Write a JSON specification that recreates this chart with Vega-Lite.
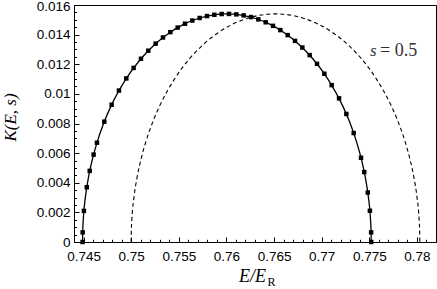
{
  "$schema": "https://vega.github.io/schema/vega-lite/v6.json",
  "width": 362,
  "height": 237,
  "autosize": {"type": "none"},
  "padding": {"left": 74, "top": 5, "right": 1, "bottom": 47},
  "background": "white",
  "config": {
    "view": {"stroke": "black", "strokeWidth": 1},
    "axis": {
      "grid": false,
      "domainColor": "black",
      "domainWidth": 1,
      "tickColor": "black",
      "tickWidth": 1,
      "labelColor": "black",
      "labelFont": "Liberation Sans",
      "labelFontSize": 13.5,
      "labelFlush": false,
      "labelOverlap": false,
      "labelBound": false,
      "titleColor": "black"
    }
  },
  "datasets": {
    "solid": [
      {"x": 0.7449, "y": 0}, {"x": 0.744915, "y": 0.000689}, {"x": 0.744976, "y": 0.001538}, {"x": 0.745203, "y": 0.003065},
      {"x": 0.745506, "y": 0.004312}, {"x": 0.745961, "y": 0.00566}, {"x": 0.746415, "y": 0.006713}, {"x": 0.747173, "y": 0.008112},
      {"x": 0.74793, "y": 0.00924}, {"x": 0.749445, "y": 0.010998}, {"x": 0.75096, "y": 0.01232}, {"x": 0.752475, "y": 0.013337},
      {"x": 0.75399, "y": 0.014114}, {"x": 0.755505, "y": 0.014691}, {"x": 0.75702, "y": 0.015089}, {"x": 0.758535, "y": 0.015323},
      {"x": 0.76005, "y": 0.0154}, {"x": 0.761565, "y": 0.015323}, {"x": 0.76308, "y": 0.015089}, {"x": 0.764595, "y": 0.014691},
      {"x": 0.76611, "y": 0.014114}, {"x": 0.767625, "y": 0.013337}, {"x": 0.76914, "y": 0.01232}, {"x": 0.770655, "y": 0.010998},
      {"x": 0.77217, "y": 0.00924}, {"x": 0.772928, "y": 0.008112}, {"x": 0.773685, "y": 0.006713}, {"x": 0.77414, "y": 0.00566},
      {"x": 0.774594, "y": 0.004312}, {"x": 0.774897, "y": 0.003065}, {"x": 0.775124, "y": 0.001538}, {"x": 0.775185, "y": 0.000689},
      {"x": 0.7752, "y": 0}
    ],
    "dashed": [
      {"x": 0.75, "y": 0}, {"x": 0.750015, "y": 0.000689}, {"x": 0.750076, "y": 0.001538}, {"x": 0.750303, "y": 0.003065},
      {"x": 0.750606, "y": 0.004312}, {"x": 0.751061, "y": 0.00566}, {"x": 0.751515, "y": 0.006713}, {"x": 0.752273, "y": 0.008112},
      {"x": 0.75303, "y": 0.00924}, {"x": 0.754545, "y": 0.010998}, {"x": 0.75606, "y": 0.01232}, {"x": 0.757575, "y": 0.013337},
      {"x": 0.75909, "y": 0.014114}, {"x": 0.760605, "y": 0.014691}, {"x": 0.76212, "y": 0.015089}, {"x": 0.763635, "y": 0.015323},
      {"x": 0.76515, "y": 0.0154}, {"x": 0.766665, "y": 0.015323}, {"x": 0.76818, "y": 0.015089}, {"x": 0.769695, "y": 0.014691},
      {"x": 0.77121, "y": 0.014114}, {"x": 0.772725, "y": 0.013337}, {"x": 0.77424, "y": 0.01232}, {"x": 0.775755, "y": 0.010998},
      {"x": 0.77727, "y": 0.00924}, {"x": 0.778028, "y": 0.008112}, {"x": 0.778785, "y": 0.006713}, {"x": 0.77924, "y": 0.00566},
      {"x": 0.779694, "y": 0.004312}, {"x": 0.779997, "y": 0.003065}, {"x": 0.780224, "y": 0.001538}, {"x": 0.780285, "y": 0.000689},
      {"x": 0.7803, "y": 0}
    ],
    "markers": [
      {"x": 0.7449, "y": 0}, {"x": 0.74491, "y": 0.00065}, {"x": 0.74504, "y": 0.0021}, {"x": 0.74534, "y": 0.0037},
      {"x": 0.74565, "y": 0.0048}, {"x": 0.74606, "y": 0.0059},
      {"x": 0.74641, "y": 0.006702}, {"x": 0.74718, "y": 0.008125}, {"x": 0.74795, "y": 0.009267}, {"x": 0.74872, "y": 0.010224},
      {"x": 0.74949, "y": 0.011043}, {"x": 0.75026, "y": 0.011753}, {"x": 0.75103, "y": 0.012373}, {"x": 0.7518, "y": 0.012916},
      {"x": 0.75257, "y": 0.013393}, {"x": 0.75334, "y": 0.013807}, {"x": 0.75411, "y": 0.014167}, {"x": 0.75488, "y": 0.014476},
      {"x": 0.75565, "y": 0.014737}, {"x": 0.75642, "y": 0.014951}, {"x": 0.75719, "y": 0.015123}, {"x": 0.75796, "y": 0.015252},
      {"x": 0.75873, "y": 0.015341}, {"x": 0.7595, "y": 0.01539}, {"x": 0.76027, "y": 0.015398}, {"x": 0.76104, "y": 0.015367},
      {"x": 0.76181, "y": 0.015296}, {"x": 0.76258, "y": 0.015184}, {"x": 0.76335, "y": 0.015031}, {"x": 0.76412, "y": 0.014834},
      {"x": 0.76489, "y": 0.014594}, {"x": 0.76566, "y": 0.014306}, {"x": 0.76643, "y": 0.013968}, {"x": 0.7672, "y": 0.013577},
      {"x": 0.76797, "y": 0.013129}, {"x": 0.76874, "y": 0.012616}, {"x": 0.76951, "y": 0.012029}, {"x": 0.77028, "y": 0.01136},
      {"x": 0.77105, "y": 0.01059}, {"x": 0.77182, "y": 0.009698}, {"x": 0.77259, "y": 0.008644}, {"x": 0.77336, "y": 0.007357},
      {"x": 0.77413, "y": 0.005688},
      {"x": 0.77447, "y": 0.00472}, {"x": 0.77484, "y": 0.00334}, {"x": 0.77506, "y": 0.00211}, {"x": 0.77519, "y": 0.00065},
      {"x": 0.7752, "y": 0}
    ],
    "labelS": [{"x": 0.775073, "y": 0.01256, "t": "s"}],
    "labelV": [{"x": 0.776123, "y": 0.01256, "t": "= 0.5"}]
  },
  "resolve": {"axis": {"x": "independent", "y": "independent"}},
  "layer": [
    {
      "data": {"name": "solid"},
      "mark": {"type": "line", "color": "black", "strokeWidth": 1.3, "interpolate": "monotone"},
      "encoding": {
        "x": {
          "field": "x", "type": "quantitative",
          "scale": {"domain": [0.744, 0.782], "nice": false, "zero": false},
          "axis": {
            "orient": "bottom",
            "values": [0.745, 0.75, 0.755, 0.76, 0.765, 0.77, 0.775, 0.78],
            "format": ".3~f",
            "tickSize": -5,
            "labelPadding": 12,
            "title": "E/E",
            "titleFont": "Liberation Serif",
            "titleFontStyle": "italic",
            "titleFontWeight": "normal",
            "titleFontSize": 18,
            "titleX": 178,
            "titleY": 39,
            "titleAlign": "center",
            "titleBaseline": "alphabetic"
          }
        },
        "y": {
          "field": "y", "type": "quantitative",
          "scale": {"domain": [0, 0.016], "nice": false, "zero": false},
          "axis": {
            "orient": "left",
            "values": [0, 0.002, 0.004, 0.006, 0.008, 0.01, 0.012, 0.014, 0.016],
            "format": ".3~f",
            "tickSize": -5,
            "labelPadding": 9,
            "labelOffset": {"condition": {"test": "datum.value >= 0.0159", "value": 1.5}, "value": 0},
            "title": "K(E, s)",
            "titleFont": "Liberation Serif",
            "titleFontStyle": "italic",
            "titleFontWeight": "normal",
            "titleFontSize": 17,
            "titleAngle": -90,
            "titleX": -64,
            "titleY": 112,
            "titleAlign": "center",
            "titleBaseline": "middle"
          }
        }
      }
    },
    {
      "data": {"name": "dashed"},
      "mark": {"type": "line", "color": "black", "strokeWidth": 1.1, "strokeDash": [4, 3], "interpolate": "monotone"},
      "encoding": {
        "x": {
          "field": "x", "type": "quantitative",
          "axis": {
            "orient": "bottom",
            "values": [0.746, 0.747, 0.748, 0.749, 0.751, 0.752, 0.753, 0.754, 0.756, 0.757, 0.758, 0.759, 0.761, 0.762, 0.763, 0.764, 0.766, 0.767, 0.768, 0.769, 0.771, 0.772, 0.773, 0.774, 0.776, 0.777, 0.778, 0.779, 0.781],
            "labels": false,
            "domain": false,
            "tickSize": -2.7,
            "title": "R",
            "titleFont": "Liberation Serif",
            "titleFontStyle": "normal",
            "titleFontWeight": "normal",
            "titleFontSize": 12,
            "titleX": 193,
            "titleY": 43,
            "titleAlign": "left",
            "titleBaseline": "alphabetic"
          }
        },
        "y": {
          "field": "y", "type": "quantitative",
          "axis": {
            "orient": "left",
            "values": [0.0005, 0.001, 0.0015, 0.0025, 0.003, 0.0035, 0.0045, 0.005, 0.0055, 0.0065, 0.007, 0.0075, 0.0085, 0.009, 0.0095, 0.0105, 0.011, 0.0115, 0.0125, 0.013, 0.0135, 0.0145, 0.015, 0.0155],
            "labels": false,
            "domain": false,
            "tickSize": -2.5,
            "title": null
          }
        }
      }
    },
    {
      "data": {"name": "markers"},
      "mark": {"type": "square", "color": "black", "filled": true, "opacity": 1, "size": 20},
      "encoding": {
        "x": {"field": "x", "type": "quantitative", "axis": null},
        "y": {"field": "y", "type": "quantitative", "axis": null}
      }
    },
    {
      "data": {"name": "labelS"},
      "mark": {"type": "text", "font": "Liberation Serif", "fontStyle": "italic", "fontSize": 17, "align": "left", "baseline": "alphabetic", "color": "#333333"},
      "encoding": {
        "x": {"field": "x", "type": "quantitative", "axis": null},
        "y": {"field": "y", "type": "quantitative", "axis": null},
        "text": {"field": "t"}
      }
    },
    {
      "data": {"name": "labelV"},
      "mark": {"type": "text", "font": "Liberation Serif", "fontSize": 18, "align": "left", "baseline": "alphabetic", "color": "#333333"},
      "encoding": {
        "x": {"field": "x", "type": "quantitative", "axis": null},
        "y": {"field": "y", "type": "quantitative", "axis": null},
        "text": {"field": "t"}
      }
    }
  ]
}
